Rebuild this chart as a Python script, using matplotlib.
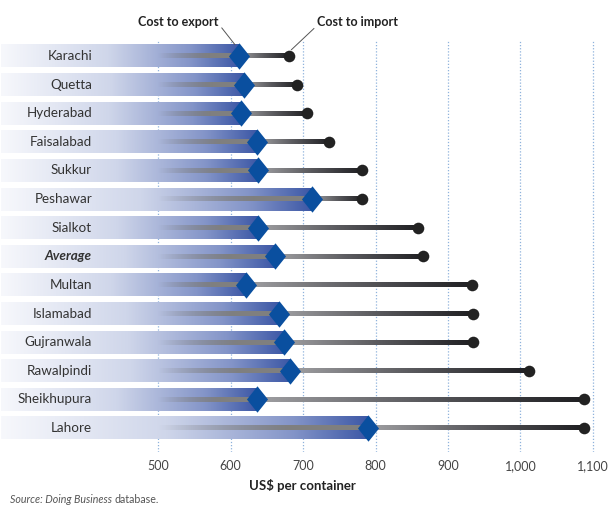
import numpy as np
import matplotlib.pyplot as plt
from matplotlib.colors import LinearSegmentedColormap
from matplotlib.path import Path

plt.rcParams['font.family'] = ['Lato', 'DejaVu Sans']

cities = ["Karachi", "Quetta", "Hyderabad", "Faisalabad", "Sukkur", "Peshawar",
          "Sialkot", "Average", "Multan", "Islamabad", "Gujranwala", "Rawalpindi",
          "Sheikhupura", "Lahore"]
cost_export = [612, 618, 615, 636, 638, 712, 638, 661, 621, 667, 674, 682, 637, 790]
cost_import = [680, 692, 706, 736, 782, 782, 859, 866, 933, 934, 934, 1012, 1088, 1088]
xticks = [500, 600, 700, 800, 900, 1000, 1100]
xtick_labels = ["500", "600", "700", "800", "900", "1,000", "1,100"]

bar_cmap = LinearSegmentedColormap.from_list(
    "barblue", [(0, "#f7f8fc"), (0.45, "#cfd6ea"), (0.8, "#8394c8"), (1, "#3d58a6")])
stem_cmap = LinearSegmentedColormap.from_list("stem", ["#a0a0a3", "#5a5a5e", "#1f1f22"])

fig = plt.figure(figsize=(6.12, 5.12), dpi=100)
ax = fig.add_axes([0, 0.1172, 0.9886, 0.8047])

x_left = 284
label_x = 409
bar_h = 0.8
stem_h = 0.17
ramp = np.linspace(0, 1, 256).reshape(1, -1)

for i, (c, ex, im) in enumerate(zip(cities, cost_export, cost_import)):
    # shaded bar up to the export cost
    ax.imshow(ramp, cmap=bar_cmap, aspect='auto', interpolation='bilinear',
              extent=[x_left, ex, i + bar_h / 2, i - bar_h / 2], zorder=2)
    # grey stem fading in inside the bar
    fade = np.zeros((1, 256, 4))
    fade[..., :3] = 0.5
    fade[..., 3] = np.clip(np.linspace(0, 1.6, 256), 0, 1)
    ax.imshow(fade, aspect='auto', interpolation='bilinear',
              extent=[500, ex, i + stem_h / 2, i - stem_h / 2], zorder=3)
    # stem from export to import, darkening to the right
    ax.imshow(ramp, cmap=stem_cmap, aspect='auto', interpolation='bilinear',
              extent=[ex, im, i + stem_h / 2, i - stem_h / 2], zorder=3)
    avg = c == "Average"
    ax.text(label_x, i, c, ha='right', va='center', fontsize=9.7, color='#333333',
            fontweight='bold' if avg else 'normal',
            fontstyle='italic' if avg else 'normal', zorder=5)

tall_diamond = Path([(0, 1), (0.8, 0), (0, -1), (-0.8, 0), (0, 1)],
                    [Path.MOVETO, Path.LINETO, Path.LINETO, Path.LINETO, Path.CLOSEPOLY])
rows = np.arange(len(cities))
ax.scatter(cost_import, rows, s=70, color='#222222', zorder=6, linewidths=0)
ax.scatter(cost_export, rows, s=360, marker=tall_diamond, color='#0a4f9f',
           zorder=7, linewidths=0)

ax.set_xlim(282, 1116.6)
ax.set_ylim(13.84, -0.56)
ax.set_xticks(xticks)
ax.set_xticklabels(xtick_labels, fontsize=9, color='#444444')
ax.set_yticks([])
ax.tick_params(axis='x', length=0, pad=6)
ax.grid(axis='x', linestyle=(0, (1, 1.5)), color='#8fb2dc', linewidth=0.9, zorder=0)
ax.set_axisbelow(True)
for s in ax.spines.values():
    s.set_visible(False)

ax.set_xlabel("US$ per container", fontsize=9.5, fontweight='bold', color='#222222',
              labelpad=5)

# callouts
ax.text(528, -1.19, "Cost to export", ha='center', va='center', fontsize=9,
        fontweight='bold', color='#222222', clip_on=False)
ax.plot([588, 606], [-0.98, -0.4], color='#555555', lw=0.7, clip_on=False)
ax.text(775, -1.19, "Cost to import", ha='center', va='center', fontsize=9,
        fontweight='bold', color='#222222', clip_on=False)
ax.plot([715, 684], [-0.96, -0.22], color='#555555', lw=0.7, clip_on=False)

src = fig.text(0.016, 0.013, "Source: Doing Business ", fontsize=7.7,
               fontstyle='italic', color='#555555', ha='left', va='bottom')
bb = src.get_window_extent(renderer=fig.canvas.get_renderer())
fig.text(bb.x1 / fig.bbox.width, 0.013, "database.", fontsize=7.7, color='#555555',
         ha='left', va='bottom')

fig.savefig("out.png", dpi=100)
